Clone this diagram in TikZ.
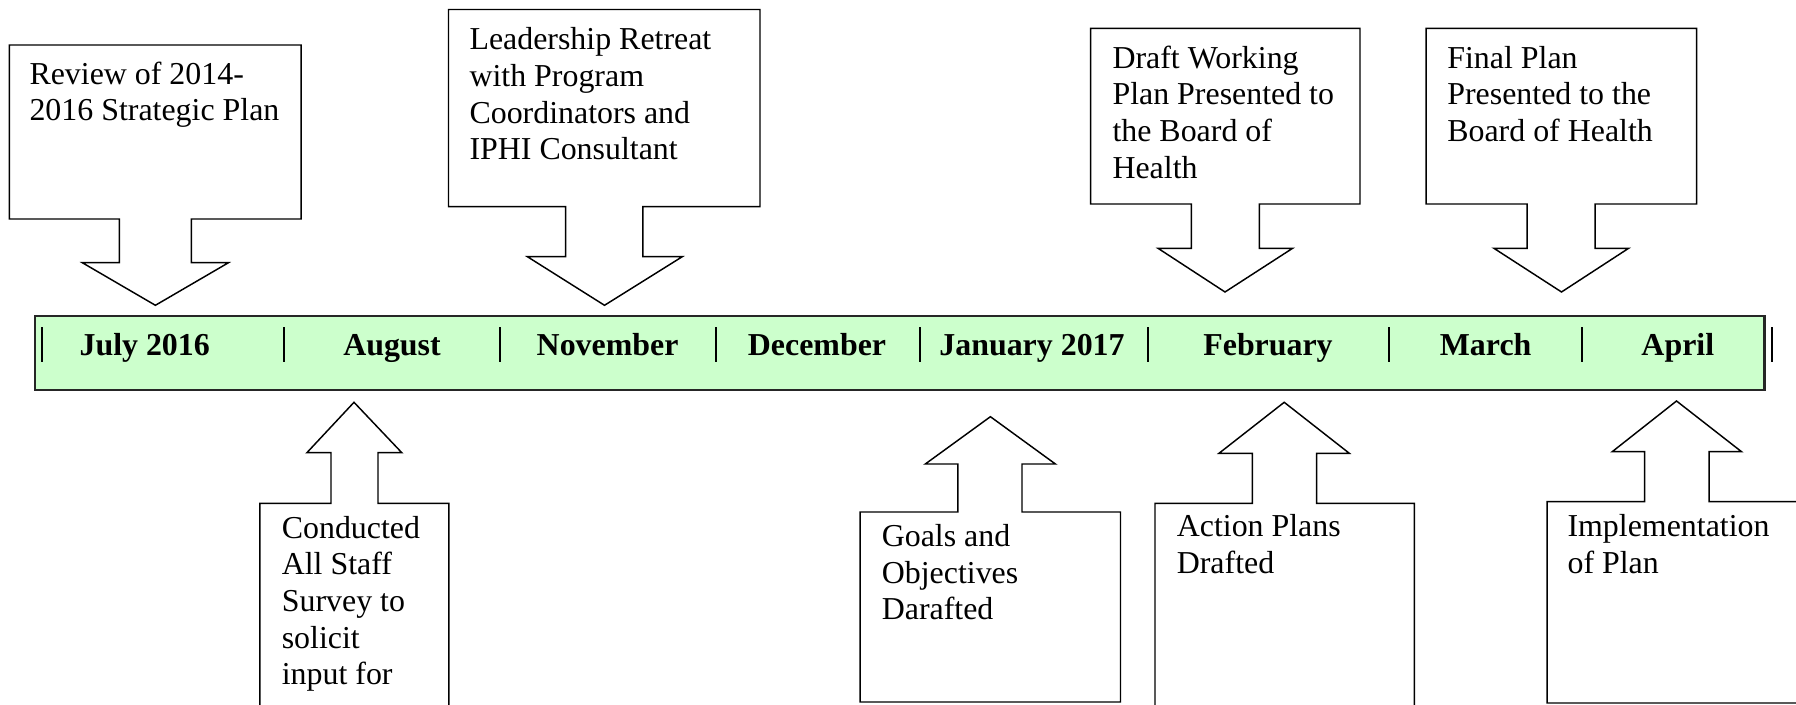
\documentclass[tikz,border=0pt]{standalone}
\usepackage{fontspec}
\setmainfont{Liberation Serif}
\definecolor{barfill}{HTML}{CCFFCC}
\begin{document}
\begin{tikzpicture}[x=0.3762pt,y=-0.3762pt,
  callout/.style={draw=black, line width=0.55pt, fill=white, line join=miter},
  note/.style={anchor=north west, inner sep=0pt, align=left, font=\fontsize{12}{13.8}\selectfont},
  month/.style={anchor=base, inner sep=0pt, font=\fontsize{12}{13.8}\selectfont\bfseries},
  sepline/.style={draw=black, line width=0.75pt},
  timebar/.style={draw=black!85, line width=0.8pt, fill=barfill}]
\useasboundingbox (0,0) rectangle (1796,705);
\clip (0,0) rectangle (1796,705);

% timeline bar
\path[timebar] (35.2,315.7) rectangle (1764.5,390.3);
\foreach \sx in {42,284,499.8,716,920,1148,1388.7,1582,1772}
  \draw[sepline] (\sx,327.5) -- (\sx,362.5);

% months
\node[month] (jul) at (144.7,356) {July 2016};
\node[month] (aug) at (392,356) {August};
\node[month] (nov) at (607.6,356) {November};
\node[month] (dec) at (817,356) {December};
\node[month] (jan) at (1032,356) {January 2017};
\node[month] (feb) at (1268,356) {February};
\node[month] (mar) at (1485.6,356) {March};
\node[month] (apr) at (1677.8,356) {April};

% callouts above the bar (pointing down)
\draw[callout] (9.3,45) -- (301.2,45) -- (301.2,219) -- (191.4,219) -- (191.4,262.7) -- (228.5,262.7) -- (155.4,305.3) -- (82.3,262.7) -- (119.4,262.7) -- (119.4,219) -- (9.3,219) -- cycle;
\draw[callout] (448.5,9.5) -- (760,9.5) -- (760,206.7) -- (642.9,206.7) -- (642.9,256.7) -- (682.3,256.7) -- (604.5,305.3) -- (527.4,256.7) -- (565.6,256.7) -- (565.6,206.7) -- (448.5,206.7) -- cycle;
\draw[callout] (1090.6,28.3) -- (1360,28.3) -- (1360,204) -- (1259.3,204) -- (1259.3,248.3) -- (1292.6,248.3) -- (1225,292) -- (1158,248.3) -- (1191.3,248.3) -- (1191.3,204) -- (1090.6,204) -- cycle;
\draw[callout] (1426.2,28.3) -- (1696.7,28.3) -- (1696.7,204) -- (1595,204) -- (1595,248.3) -- (1628.6,248.3) -- (1561.5,292) -- (1493.9,248.3) -- (1527.2,248.3) -- (1527.2,204) -- (1426.2,204) -- cycle;

% callouts below the bar (pointing up)
\draw[callout] (259.9,720) -- (259.9,503.3) -- (331,503.3) -- (331,452.7) -- (306.9,452.7) -- (354,402.3) -- (401.8,452.7) -- (378,452.7) -- (378,503.3) -- (448.9,503.3) -- (448.9,720) -- cycle;
\draw[callout] (860.2,702) -- (860.2,512) -- (957.8,512) -- (957.8,464) -- (925.3,464) -- (990.4,416.7) -- (1055.4,464) -- (1022,464) -- (1022,512) -- (1120.5,512) -- (1120.5,702) -- cycle;
\draw[callout] (1155,720) -- (1155,503.3) -- (1252.4,503.3) -- (1252.4,453.3) -- (1219,453.3) -- (1284.2,402.3) -- (1349.3,453.3) -- (1316.7,453.3) -- (1316.7,503.3) -- (1414.3,503.3) -- (1414.3,720) -- cycle;
\draw[callout] (1547.1,703) -- (1547.1,501.7) -- (1644.7,501.7) -- (1644.7,451.7) -- (1612.2,451.7) -- (1676.5,401) -- (1741.5,451.7) -- (1709,451.7) -- (1709,501.7) -- (1810,501.7) -- (1810,703) -- cycle;

% callout texts
\node[note] (review) at (29,58) {\strut Review of 2014-\\2016 Strategic Plan};
\node[note] (retreat) at (469,23.7) {\strut Leadership Retreat\\with Program\\Coordinators and\\IPHI Consultant};
\node[note] (draft) at (1112,42) {\strut Draft Working\\Plan Presented to\\the Board of\\Health};
\node[note] (final) at (1446.8,42) {\strut Final Plan\\Presented to the\\Board of Health};
\node[note] (survey) at (281.3,512) {\strut Conducted\\All Staff\\Survey to\\solicit\\input for};
\node[note] (goals) at (881.3,520.3) {\strut Goals and\\Objectives\\Darafted};
\node[note] (action) at (1176.3,510.3) {\strut Action Plans\\Drafted};
\node[note] (implement) at (1567,510.3) {\strut Implementation\\of Plan};
\end{tikzpicture}
\end{document}
